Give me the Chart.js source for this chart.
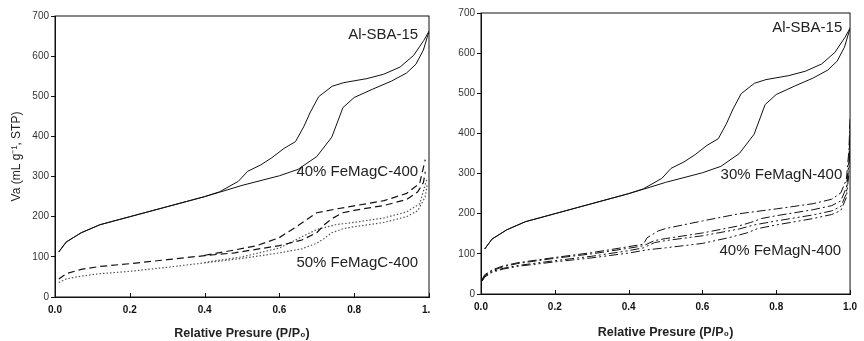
<!DOCTYPE html>
<html>
<head>
<meta charset="utf-8">
<script src="https://cdn.jsdelivr.net/npm/chart.js@4.4.0/dist/chart.umd.min.js"></script>
<style>
  html, body { margin: 0; padding: 0; background: #fff; }
  #left { position: absolute; left: 0; top: 0; width: 430px; height: 341px; overflow: hidden; }
  #right { position: absolute; left: 430px; top: 0; width: 434px; height: 341px; }
</style>
</head>
<body>
<div id="left"><canvas id="chartC" width="445" height="341"></canvas></div>
<div id="right"><canvas id="chartN" width="434" height="341"></canvas></div>
<script>
// ---- data (P/P0 and adsorbed volume) ----
const xTickValues = [0, 0.2, 0.4, 0.6, 0.8, 1.0];
const yTickValues = [0, 100, 200, 300, 400, 500, 600, 700];

// Al-SBA-15 (same curve on both panels)
const sbaAdsP = [0.01, 0.03, 0.07, 0.12, 0.2, 0.3, 0.4, 0.44, 0.5, 0.6, 0.65, 0.7, 0.74, 0.77, 0.8, 0.85, 0.9, 0.94, 0.965, 0.985, 1.0];
const sbaAdsV = [112, 137, 160, 180, 200, 225, 250, 261, 278, 302, 318, 350, 398, 472, 497, 518, 538, 558, 580, 615, 662];
const sbaDesP = [0.01, 0.03, 0.07, 0.12, 0.2, 0.3, 0.4, 0.44, 0.49, 0.515, 0.55, 0.58, 0.612, 0.643, 0.665, 0.683, 0.705, 0.741, 0.772, 0.834, 0.879, 0.923, 0.959, 0.986, 1.0];
const sbaDesV = [112, 137, 160, 180, 200, 225, 250, 262, 288, 313, 329, 347, 370, 387, 424, 461, 499, 525, 534, 544, 555, 573, 602, 639, 662];

// 40% FeMagC-400 (dashed)
const c40AdsP = [0.01, 0.03, 0.07, 0.12, 0.2, 0.3, 0.4, 0.48, 0.6, 0.66, 0.7, 0.72, 0.74, 0.77, 0.8, 0.88, 0.94, 0.97, 0.985, 0.99];
const c40AdsV = [45, 58, 69, 76, 83, 93, 103, 110, 128, 142, 160, 180, 195, 210, 216, 228, 243, 262, 285, 312];
const c40DesP = [0.4, 0.48, 0.54, 0.6, 0.65, 0.7, 0.75, 0.8, 0.88, 0.94, 0.975, 0.99];
const c40DesV = [104, 117, 128, 148, 178, 210, 219, 227, 240, 258, 283, 342];

// 50% FeMagC-400 (dotted)
const c50AdsP = [0.01, 0.03, 0.07, 0.12, 0.2, 0.3, 0.4, 0.5, 0.6, 0.66, 0.7, 0.72, 0.74, 0.77, 0.8, 0.88, 0.94, 0.97, 0.99, 0.995];
const c50AdsV = [36, 45, 52, 58, 64, 74, 85, 96, 110, 120, 134, 146, 160, 170, 175, 186, 200, 215, 250, 280];
const c50DesP = [0.4, 0.5, 0.6, 0.66, 0.7, 0.75, 0.8, 0.88, 0.94, 0.975, 0.995];
const c50DesV = [86, 100, 122, 150, 168, 180, 186, 197, 212, 232, 296];

// 30% FeMagN-400 (dash-dot)
const n30AdsP = [0.003, 0.01, 0.03, 0.06, 0.1, 0.2, 0.3, 0.4, 0.44, 0.47, 0.5, 0.6, 0.7, 0.73, 0.76, 0.8, 0.9, 0.95, 0.975, 0.99, 0.997, 1.0];
const n30AdsV = [34, 46, 58, 68, 76, 89, 100, 114, 120, 133, 138, 152, 170, 178, 188, 195, 210, 220, 232, 265, 330, 420];
const n30DesP = [0.003, 0.01, 0.03, 0.06, 0.1, 0.2, 0.3, 0.4, 0.44, 0.45, 0.48, 0.5, 0.6, 0.7, 0.8, 0.9, 0.95, 0.975, 0.99, 0.997, 1.0];
const n30DesV = [36, 48, 60, 70, 78, 91, 103, 118, 124, 140, 157, 163, 182, 200, 212, 225, 236, 252, 285, 360, 440];

// 40% FeMagN-400 (dash-dot-dot)
const n40AdsP = [0.003, 0.01, 0.03, 0.06, 0.1, 0.2, 0.3, 0.4, 0.45, 0.5, 0.6, 0.67, 0.72, 0.75, 0.8, 0.9, 0.95, 0.975, 0.99, 0.997, 1.0];
const n40AdsV = [32, 42, 54, 62, 69, 80, 90, 102, 110, 115, 126, 140, 152, 163, 172, 188, 198, 208, 240, 300, 380];
const n40DesP = [0.003, 0.01, 0.03, 0.06, 0.1, 0.2, 0.3, 0.4, 0.44, 0.47, 0.5, 0.6, 0.7, 0.74, 0.8, 0.9, 0.95, 0.975, 0.99, 0.997, 1.0];
const n40DesV = [33, 44, 56, 64, 71, 83, 94, 108, 115, 128, 133, 145, 162, 172, 182, 197, 207, 218, 250, 320, 400];

// ---- helpers ----
Chart.defaults.font.family = '"Liberation Sans", Arial, sans-serif';
Chart.defaults.color = '#222';

function pts(p, v) {
    return p.map((x, i) => ({ x: x, y: v[i] }));
}

const solid = { borderColor: '#111', borderWidth: 1 };
const dashed = { borderColor: '#111', borderWidth: 1.2, borderDash: [7, 4] };
const dotted = { borderColor: '#555', borderWidth: 1.2, borderDash: [1.5, 2] };
const dashDot = { borderColor: '#111', borderWidth: 1, borderDash: [9, 3, 2, 3] };
const dashDotDot = { borderColor: '#111', borderWidth: 1, borderDash: [9, 3, 2, 3, 2, 3] };

function series(label, p, v, style) {
    return Object.assign({
        label: label,
        data: pts(p, v),
        pointRadius: 0,
        tension: 0,
        fill: false
    }, style);
}

// frame, inward x ticks and in-plot labels
const decorPlugin = {
    id: 'decor',
    afterDraw(chart, args, opts) {
        const { ctx, chartArea: a, scales: { x, y } } = chart;
        ctx.save();
        ctx.strokeStyle = '#111';
        ctx.lineWidth = 1;
        ctx.strokeRect(a.left, a.top, a.right - a.left, a.bottom - a.top);
        ctx.beginPath();
        xTickValues.forEach(v => {
            const px = Math.round(x.getPixelForValue(v)) + 0.5;
            ctx.moveTo(px, a.bottom);
            ctx.lineTo(px, a.bottom - 4);
        });
        ctx.stroke();
        ctx.fillStyle = '#222';
        ctx.font = '15px "Liberation Sans", Arial, sans-serif';
        ctx.textAlign = 'right';
        ctx.textBaseline = 'middle';
        (opts.notes || []).forEach(n => {
            ctx.fillText(n.text, x.getPixelForValue(n.x), y.getPixelForValue(n.y));
        });
        ctx.restore();
    }
};

function makeChart(id, datasets, o) {
    const ctx = document.getElementById(id).getContext('2d');
    return new Chart(ctx, {
        type: 'line',
        data: { datasets: datasets },
        plugins: [decorPlugin],
        options: {
            responsive: false,
            animation: false,
            layout: { padding: o.padding },
            plugins: {
                legend: { display: false },
                tooltip: { enabled: false },
                decor: { notes: o.notes }
            },
            scales: {
                x: {
                    type: 'linear',
                    min: 0,
                    max: 1,
                    afterBuildTicks: s => { s.ticks = xTickValues.map(v => ({ value: v })); },
                    afterFit: s => { s.height = o.xHeight; },
                    grid: { display: false, drawTicks: false },
                    border: { display: true, color: '#111', width: 1 },
                    ticks: {
                        padding: 7,
                        color: '#111',
                        font: { size: 10, weight: 'bold' },
                        callback: v => v.toFixed(1)
                    },
                    title: {
                        display: true,
                        text: 'Relative Presure (P/P\u2080)',
                        color: '#222',
                        font: { size: 12.5, weight: 'bold' },
                        padding: { top: 0, bottom: o.xTitlePad }
                    }
                },
                y: {
                    min: 0,
                    max: 700,
                    afterBuildTicks: s => { s.ticks = yTickValues.map(v => ({ value: v })); },
                    afterFit: s => { s.width = o.yWidth; },
                    grid: { display: true, drawOnChartArea: false, drawTicks: true, tickLength: 4, color: '#111' },
                    border: { display: true, color: '#111', width: 1 },
                    ticks: {
                        padding: 2,
                        color: '#333',
                        font: { size: 10 }
                    },
                    title: {
                        display: o.yTitle !== '',
                        text: o.yTitle,
                        color: '#222',
                        font: { size: 12 },
                        padding: { top: 9, bottom: 0 }
                    }
                }
            }
        }
    });
}

makeChart('chartC', [
    series('Al-SBA-15 ads', sbaAdsP, sbaAdsV, solid),
    series('Al-SBA-15 des', sbaDesP, sbaDesV, solid),
    series('40% FeMagC-400 ads', c40AdsP, c40AdsV, dashed),
    series('40% FeMagC-400 des', c40DesP, c40DesV, dashed),
    series('50% FeMagC-400 ads', c50AdsP, c50AdsV, dotted),
    series('50% FeMagC-400 des', c50DesP, c50DesV, dotted)
], {
    padding: { top: 16, right: 16, bottom: 0, left: 0 },
    xHeight: 44,
    yWidth: 55,
    xTitlePad: 0,
    yTitle: 'Va (mL g\u207B\u00B9, STP)',
    notes: [
        { text: 'Al-SBA-15', x: 0.971, y: 652 },
        { text: '40% FeMagC-400', x: 0.971, y: 311 },
        { text: '50% FeMagC-400', x: 0.971, y: 85 }
    ]
});

makeChart('chartN', [
    series('Al-SBA-15 ads', sbaAdsP, sbaAdsV, solid),
    series('Al-SBA-15 des', sbaDesP, sbaDesV, solid),
    series('30% FeMagN-400 ads', n30AdsP, n30AdsV, dashDot),
    series('30% FeMagN-400 des', n30DesP, n30DesV, dashDot),
    series('40% FeMagN-400 ads', n40AdsP, n40AdsV, dashDotDot),
    series('40% FeMagN-400 des', n40DesP, n40DesV, dashDotDot)
], {
    padding: { top: 13, right: 9, bottom: 0, left: 0 },
    xHeight: 47,
    yWidth: 51,
    xTitlePad: 1,
    yTitle: '',
    notes: [
        { text: 'Al-SBA-15', x: 0.979, y: 662 },
        { text: '30% FeMagN-400', x: 0.979, y: 297 },
        { text: '40% FeMagN-400', x: 0.976, y: 108 }
    ]
});
</script>
</body>
</html>
